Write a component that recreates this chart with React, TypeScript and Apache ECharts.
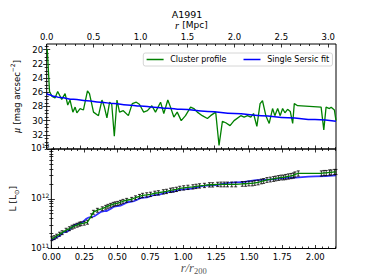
import React, { useEffect, useRef } from "react";
import * as echarts from "echarts";

// ---- data ----
// radius in units of r200
const radius = [
  0.004, 0.021, 0.040, 0.062, 0.082, 0.112, 0.137, 0.157, 0.174, 0.195,
  0.212, 0.225, 0.249, 0.274, 0.304, 0.319, 0.349, 0.386, 0.412, 0.429,
  0.449, 0.469, 0.485, 0.504, 0.524, 0.543, 0.571, 0.609, 0.638, 0.668,
  0.691, 0.723, 0.751, 0.784, 0.811, 0.849, 0.873, 0.903, 0.923, 0.948,
  0.973, 1.003, 1.035, 1.073, 1.097, 1.123, 1.160, 1.198, 1.222, 1.260,
  1.285, 1.310, 1.335, 1.367, 1.397, 1.447, 1.472, 1.497, 1.522, 1.542,
  1.567, 1.591, 1.609, 1.634, 1.659, 1.684, 1.701, 1.722, 1.741, 1.759,
  1.776, 1.796, 1.816, 1.834, 1.846, 1.871, 2.046, 2.066, 2.083, 2.108,
  2.121, 2.145, 2.157,
];
// surface brightness, mag arcsec^-2
const surfaceBrightness = [
  19.9, 25.9, 26.6, 26.8, 25.9, 27.0, 26.2, 27.8, 27.1, 28.8,
  28.1, 28.9, 28.3, 28.5, 25.8, 26.2, 28.8, 29.3, 27.1, 28.0,
  29.6, 27.4, 27.7, 32.2, 27.1, 28.8, 28.6, 29.3, 27.6, 27.4,
  27.7, 28.8, 28.6, 27.9, 28.8, 27.4, 29.0, 27.1, 28.1, 29.5,
  28.8, 30.0, 29.3, 28.1, 28.3, 28.8, 29.3, 29.7, 29.3, 28.8,
  33.5, 30.1, 30.3, 30.7, 30.0, 29.3, 29.5, 29.3, 29.5, 29.0,
  30.8, 27.6, 27.2, 29.3, 30.4, 28.3, 29.3, 28.3, 29.3, 28.3,
  28.9, 28.4, 28.7, 30.4, 27.6, 27.9, 28.1, 31.3, 28.1, 28.3,
  28.1, 28.5, 30.0,
];
// cumulative luminosity, in units of 1e11 Lsun
const luminosity1e11 = [
  1.58, 1.66, 1.78, 1.95, 2.09, 2.34, 2.51, 2.69, 2.82, 2.95,
  3.09, 3.16, 3.24, 3.39, 4.57, 5.37, 5.89, 6.31, 6.76, 7.08,
  7.41, 7.76, 7.94, 8.13, 8.51, 8.91, 9.33, 9.77, 10.5, 11.2,
  11.7, 12.0, 12.3, 12.9, 13.2, 13.8, 14.1, 14.8, 15.1, 15.5,
  16.2, 16.6, 17.0, 17.4, 17.8, 18.2, 18.6, 19.1, 19.1, 19.5,
  19.5, 19.5, 19.5, 19.5, 19.5, 20.0, 20.0, 20.4, 20.4, 20.9,
  21.4, 22.4, 22.9, 24.0, 24.5, 25.1, 25.7, 26.3, 26.9, 26.9,
  27.5, 28.2, 28.8, 29.5, 30.9, 32.4, 32.4, 33.1, 33.1, 33.9,
  33.9, 34.7, 34.7,
];
// relative error of the cumulative luminosity
const luminosityRelErr = [
  0.09, 0.09, 0.09, 0.09, 0.09, 0.09, 0.09, 0.09, 0.09, 0.09,
  0.09, 0.09, 0.09, 0.09, 0.09, 0.09, 0.09, 0.09, 0.09, 0.09,
  0.09, 0.09, 0.09, 0.09, 0.09, 0.09, 0.09, 0.09, 0.09, 0.09,
  0.10, 0.10, 0.10, 0.10, 0.10, 0.10, 0.10, 0.10, 0.10, 0.10,
  0.10, 0.10, 0.10, 0.10, 0.10, 0.10, 0.10, 0.10, 0.10, 0.10,
  0.11, 0.11, 0.11, 0.11, 0.11, 0.11, 0.11, 0.11, 0.11, 0.11,
  0.11, 0.11, 0.11, 0.11, 0.11, 0.11, 0.11, 0.11, 0.11, 0.11,
  0.12, 0.12, 0.12, 0.12, 0.12, 0.12, 0.12, 0.12, 0.12, 0.12,
  0.12, 0.12, 0.12,
];
// single Sersic fit
const fitRadius = [0, 0.02, 0.05, 0.1, 0.2, 0.3, 0.4, 0.5, 0.6, 0.7, 0.8, 0.9, 1.0, 1.2, 1.4, 1.6, 1.8, 2.0, 2.157];
const fitMu = [26.2, 26.35, 26.55, 26.75, 27.0, 27.2, 27.4, 27.6, 27.8, 27.95, 28.1, 28.25, 28.4, 28.7, 29.0, 29.3, 29.6, 29.85, 30.1];
const fitLuminosity1e11 = [1.45, 1.55, 1.74, 2.14, 3.09, 4.27, 5.62, 7.08, 8.71, 10.5, 12.0, 13.8, 15.5, 18.6, 21.4, 24.0, 26.3, 28.2, 29.5];

// tick labels
const xMajor = [0, 0.25, 0.5, 0.75, 1.0, 1.25, 1.5, 1.75, 2.0];
const mpcMajor = [0, 0.5, 1.0, 1.5, 2.0, 2.5, 3.0];
const muMajor = [20, 22, 24, 26, 28, 30, 32];

const R200_MPC = 1.429;
const X_MAX = 2.157;
const MU_MIN = 19.2;
const MU_MAX = 34.0;

const FONT = "DejaVu Sans";
const SERIF = "Liberation Serif";

function steps(start: number, end: number, step: number, exclude: number[]) {
  const out: number[] = [];
  for (let i = 0; ; i++) {
    const v = +(start + i * step).toFixed(6);
    if (v > end + 1e-9) break;
    if (!exclude.some((m) => Math.abs(m - v) < 1e-6)) out.push(v);
  }
  return out;
}

const xMinor = steps(0, X_MAX, 0.05, xMajor);
const mpcMinor = steps(0, X_MAX * R200_MPC, 0.1, mpcMajor);
const muMinor = steps(19.5, MU_MAX, 0.5, muMajor);
const logMinor: number[] = [];
[11, 12].forEach((e) => {
  for (let k = 2; k <= 9; k++) logMinor.push(e + Math.log10(k));
});

const tickLine = { color: "#000", width: 0.8 };

function axis(
  gridIndex: number,
  position: string,
  min: number,
  max: number,
  tickValues: number[] | undefined,
  len: number,
  extra: any = {}
) {
  const tick: any = { show: true, inside: true, length: len, lineStyle: tickLine };
  if (tickValues) tick.customValues = tickValues;
  return {
    type: "value",
    gridIndex,
    position,
    min,
    max,
    axisLine: { show: false },
    splitLine: { show: false },
    axisTick: tick,
    axisLabel: { show: false },
    ...extra,
  };
}

const labelStyle = { fontFamily: FONT, fontSize: 8.5, color: "#000" };

export default function App() {
  const ref = useRef<HTMLDivElement>(null);

  useEffect(() => {
    if (!ref.current) return;
    const chart = echarts.init(ref.current, undefined, { renderer: "svg" });

    const grid0 = { left: 46.7, top: 44, width: 289.3, height: 105 };
    const grid1 = { left: 46.7, top: 149, width: 289.3, height: 99.5 };

    const xAxes = [
      // top panel, bottom edge (data axis)
      axis(0, "bottom", 0, X_MAX, xMajor, 3.5),
      axis(0, "bottom", 0, X_MAX, xMinor, 2),
      // top panel, top edge: r in Mpc
      axis(0, "top", 0, X_MAX * R200_MPC, mpcMajor, 3.5, {
        axisLabel: {
          show: true,
          customValues: mpcMajor,
          formatter: (v: number) => v.toFixed(1),
          margin: 3,
          ...labelStyle,
        },
        name: "{i|r} {n|[Mpc]}",
        nameLocation: "middle",
        nameGap: 12,
        nameTextStyle: {
          rich: {
            i: { fontFamily: SERIF, fontStyle: "italic", fontSize: 10.5, color: "#000" },
            n: { fontFamily: FONT, fontSize: 9, color: "#000" },
          },
        },
      }),
      axis(0, "top", 0, X_MAX * R200_MPC, mpcMinor, 2),
      // bottom panel, bottom edge (data axis, labels)
      axis(1, "bottom", 0, X_MAX, xMajor, 3.5, {
        axisLabel: {
          show: true,
          customValues: xMajor,
          formatter: (v: number) => v.toFixed(2),
          margin: 3.5,
          ...labelStyle,
        },
        name: "{i|r/r}{s|200}",
        nameLocation: "middle",
        nameGap: 13,
        nameTextStyle: {
          rich: {
            i: { fontFamily: SERIF, fontStyle: "italic", fontSize: 12.5, color: "#555", lineHeight: 14, verticalAlign: "top" },
            s: { fontFamily: SERIF, fontSize: 8.5, color: "#555", lineHeight: 14, verticalAlign: "bottom", padding: [3, 0, 0, 0] },
          },
        },
      }),
      axis(1, "bottom", 0, X_MAX, xMinor, 2),
      axis(1, "top", 0, X_MAX, xMajor, 3.5),
      axis(1, "top", 0, X_MAX, xMinor, 2),
    ];

    const logLabelRich = {
      b: { fontFamily: FONT, fontSize: 8.5, color: "#000", lineHeight: 10, verticalAlign: "bottom" },
      s: { fontFamily: FONT, fontSize: 6, color: "#000", lineHeight: 7, verticalAlign: "top", padding: [0, 0, 6, 0] },
    };

    const yAxes = [
      // top panel left (data axis, labels)
      axis(0, "left", MU_MIN, MU_MAX, muMajor, 3.5, {
        inverse: true,
        axisLabel: {
          show: true,
          customValues: muMajor,
          formatter: (v: number) => String(v),
          margin: 3.5,
          ...labelStyle,
        },
        name: "{i|μ} {n|[mag arcsec}{s|−2}{n|]}",
        nameLocation: "middle",
        nameRotate: 90,
        nameGap: 20,
        nameTextStyle: {
          rich: {
            i: { fontFamily: SERIF, fontStyle: "italic", fontSize: 10, color: "#000", lineHeight: 12, verticalAlign: "bottom" },
            n: { fontFamily: FONT, fontSize: 8.5, color: "#000", lineHeight: 12, verticalAlign: "bottom" },
            s: { fontFamily: FONT, fontSize: 6, color: "#000", lineHeight: 12, verticalAlign: "top" },
          },
        },
      }),
      axis(0, "left", MU_MIN, MU_MAX, muMinor, 2, { inverse: true }),
      axis(0, "right", MU_MIN, MU_MAX, muMajor, 3.5, { inverse: true }),
      axis(0, "right", MU_MIN, MU_MAX, muMinor, 2, { inverse: true }),
      // bottom panel left (log data axis, labels)
      axis(1, "left", 1e11, 1e13, undefined, 3.5, {
        type: "log",
        logBase: 10,
        axisLabel: {
          show: true,
          margin: 2,
          padding: [0, 0, 3, 0],
          formatter: (v: number) => `{b|10}{s|${Math.round(Math.log10(v))}}`,
          rich: logLabelRich,
        },
        name: "{n|L [L}{s|⊙}{n|]}",
        nameLocation: "middle",
        nameRotate: 90,
        nameGap: 27,
        nameTextStyle: {
          rich: {
            n: { fontFamily: FONT, fontSize: 9, color: "#000", lineHeight: 12, verticalAlign: "top" },
            s: { fontFamily: FONT, fontSize: 6.5, color: "#000", lineHeight: 12, verticalAlign: "bottom" },
          },
        },
      }),
      axis(1, "left", 11, 13, logMinor, 2),
      axis(1, "right", 1e11, 1e13, undefined, 3.5, { type: "log", logBase: 10 }),
      axis(1, "right", 11, 13, logMinor, 2),
    ];

    const green = "#008000";
    const blue = "#0000ff";

    const option: any = {
      animation: false,
      title: {
        text: "A1991",
        left: "center",
        top: 4,
        textStyle: { fontFamily: FONT, fontSize: 9.5, fontWeight: "normal", color: "#000" },
      },
      legend: {
        data: [
          { name: "Cluster profile", icon: "rect" },
          { name: "Single Sersic fit", icon: "rect" },
        ],
        left: 143.3,
        top: 53,
        itemWidth: 17,
        itemHeight: 1.5,
        itemGap: 17,
        padding: [2.5, 3.3],
        backgroundColor: "rgba(255,255,255,0.8)",
        borderColor: "#cccccc",
        borderWidth: 0.8,
        borderRadius: 2,
        selectedMode: false,
        textStyle: { fontFamily: FONT, fontSize: 8, color: "#000", padding: [0, 0, 0, 1.7] },
      },
      grid: [
        { ...grid0, show: true, borderColor: "#000", borderWidth: 1, backgroundColor: "transparent" },
        { ...grid1, show: true, borderColor: "#000", borderWidth: 1, backgroundColor: "transparent" },
      ],
      xAxis: xAxes,
      yAxis: yAxes,
      series: [
        {
          name: "Cluster profile",
          type: "line",
          xAxisIndex: 0,
          yAxisIndex: 0,
          data: radius.map((r, i) => [r, surfaceBrightness[i]]),
          symbol: "none",
          itemStyle: { color: green },
          lineStyle: { color: green, width: 1.3 },
          z: 2,
        },
        {
          name: "Single Sersic fit",
          type: "line",
          xAxisIndex: 0,
          yAxisIndex: 0,
          data: fitRadius.map((r, i) => [r, fitMu[i]]),
          symbol: "none",
          smooth: true,
          smoothMonotone: "x",
          itemStyle: { color: blue },
          lineStyle: { color: blue, width: 1.5 },
          z: 3,
        },
        {
          name: "Sersic luminosity",
          type: "line",
          xAxisIndex: 4,
          yAxisIndex: 4,
          data: fitRadius.map((r, i) => [r, fitLuminosity1e11[i] * 1e11]),
          symbol: "none",
          smooth: true,
          smoothMonotone: "x",
          itemStyle: { color: blue },
          lineStyle: { color: blue, width: 1.8, opacity: 0.8 },
          z: 2,
        },
        {
          name: "Luminosity errors",
          type: "custom",
          xAxisIndex: 4,
          yAxisIndex: 4,
          silent: true,
          z: 3,
          data: radius.map((r, i) => {
            const v = luminosity1e11[i] * 1e11;
            const e = luminosityRelErr[i] * v;
            return [r, v, v - e, v + e];
          }),
          encode: { x: 0, y: [1, 2, 3] },
          renderItem: (_params: any, api: any) => {
            const x = api.value(0);
            const p1 = api.coord([x, api.value(2)]);
            const p2 = api.coord([x, api.value(3)]);
            const cap = 1.5;
            const style = { stroke: "#000", lineWidth: 0.8 };
            return {
              type: "group",
              children: [
                { type: "line", shape: { x1: p1[0], y1: p1[1], x2: p2[0], y2: p2[1] }, style },
                { type: "line", shape: { x1: p1[0] - cap, y1: p1[1], x2: p1[0] + cap, y2: p1[1] }, style },
                { type: "line", shape: { x1: p2[0] - cap, y1: p2[1], x2: p2[0] + cap, y2: p2[1] }, style },
              ],
            };
          },
        },
        {
          name: "Cluster luminosity",
          type: "line",
          xAxisIndex: 4,
          yAxisIndex: 4,
          data: radius.map((r, i) => [r, luminosity1e11[i] * 1e11]),
          symbol: "none",
          itemStyle: { color: green },
          lineStyle: { color: green, width: 1.3 },
          z: 4,
        },
      ],
    };

    chart.setOption(option);
    return () => chart.dispose();
  }, []);

  return (
    <div
      ref={ref}
      style={{ position: "absolute", left: 0, top: 0, width: 374, height: 280, background: "#fff" }}
    />
  );
}
